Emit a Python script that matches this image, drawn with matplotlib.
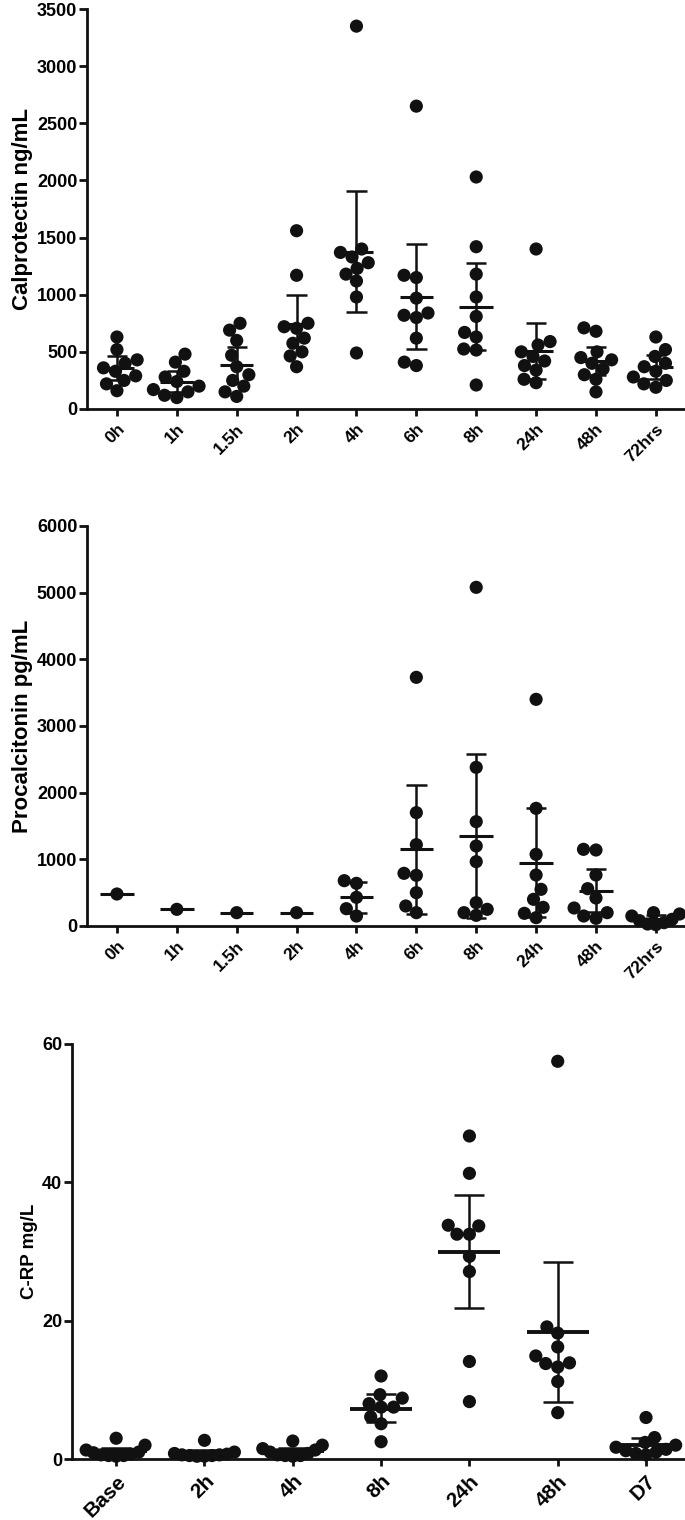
import numpy as np
import matplotlib
matplotlib.use("Agg")
import matplotlib.pyplot as plt

plt.rcParams['font.family'] = ['Liberation Sans', 'DejaVu Sans']
plt.rcParams['font.weight'] = 'bold'

INK = '#111111'

# --- Calprotectin (ng/mL) ---
calp_labels = ['0h', '1h', '1.5h', '2h', '4h', '6h', '8h', '24h', '48h', '72hrs']
calp_points = [
    [630, 520, 430, 400, 360, 330, 290, 250, 220, 160],
    [480, 410, 330, 280, 240, 200, 170, 150, 120, 100],
    [750, 690, 600, 470, 370, 300, 250, 200, 150, 110],
    [1560, 1170, 750, 720, 706, 620, 575, 500, 464, 370],
    [3350, 1400, 1370, 1330, 1280, 1230, 1180, 1120, 980, 490],
    [2650, 1170, 1150, 970, 840, 820, 800, 620, 410, 380],
    [2030, 1420, 1180, 980, 810, 670, 630, 525, 516, 210],
    [1400, 590, 560, 500, 460, 420, 380, 340, 260, 230],
    [710, 680, 500, 450, 430, 400, 350, 300, 260, 150],
    [630, 520, 460, 400, 370, 330, 280, 250, 220, 190],
]
calp_mean = [360, 240, 385, 740, 1375, 983, 895, 510, 423, 365]
calp_lo = [250, 150, 225, 480, 845, 522, 515, 265, 300, 260]
calp_hi = [465, 330, 545, 1000, 1905, 1444, 1275, 755, 545, 470]

# --- Procalcitonin (pg/mL) ---
pct_labels = ['0h', '1h', '1.5h', '2h', '4h', '6h', '8h', '24h', '48h', '72hrs']
pct_points = [
    [480],
    [250],
    [200],
    [200],
    [680, 640, 430, 260, 150],
    [3730, 1700, 1220, 790, 760, 500, 300, 200],
    [5080, 2380, 1565, 1200, 965, 350, 250, 200, 160],
    [3400, 1765, 1075, 765, 550, 400, 280, 190, 125],
    [1150, 1140, 765, 560, 420, 270, 200, 150, 115],
    [200, 180, 150, 100, 80, 50, 30, 20],
]
pct_mean = [480, 250, 200, 200, 430, 1150, 1350, 950, 530, 100]
pct_lo = [480, 250, 200, 200, 200, 185, 125, 135, 210, 30]
pct_hi = [480, 250, 200, 200, 660, 2115, 2575, 1765, 850, 170]

# --- C-RP (mg/L) ---
crp_labels = ['Base', '2h', '4h', '8h', '24h', '48h', 'D7']
crp_points = [
    [3.0, 2.0, 1.3, 1.0, 0.9, 0.7, 0.6, 0.5, 0.5, 0.4],
    [2.7, 1.0, 0.8, 0.7, 0.6, 0.6, 0.5, 0.5, 0.4, 0.4],
    [2.6, 2.0, 1.5, 1.3, 1.0, 0.8, 0.6, 0.5, 0.5, 0.4],
    [12.0, 9.3, 8.8, 8.0, 7.5, 7.5, 6.1, 5.1, 2.5],
    [46.7, 41.3, 33.8, 33.7, 32.5, 32.5, 29.3, 27.1, 14.1, 8.3],
    [57.5, 19.1, 18.2, 16.2, 14.9, 13.9, 13.8, 13.3, 11.2, 6.7],
    [6.0, 3.1, 2.4, 2.0, 1.7, 1.4, 1.2, 1.0, 0.8, 0.6],
]
crp_mean = [1.1, 0.8, 1.1, 7.3, 30.0, 18.4, 2.0]
crp_lo = [0.6, 0.4, 0.6, 5.3, 21.8, 8.3, 0.9]
crp_hi = [1.6, 1.3, 1.6, 9.4, 38.2, 28.5, 3.1]


def swarm_offsets(vals_px, d, max_spread):
    """Simple beeswarm in pixels; squeezed back if it gets wider than max_spread."""
    placed = []
    offs = np.zeros(len(vals_px))
    for i in np.argsort(vals_px):
        y = vals_px[i]
        spans = []
        for px, py in placed:
            dy = y - py
            if abs(dy) < d:
                h = np.sqrt(d * d - dy * dy)
                spans.append((px - h, px + h))
        cands = sorted([0.0] + [a for a, b in spans] + [b for a, b in spans], key=abs)
        for c in cands:
            if all(not (a + 1e-6 < c < b - 1e-6) for a, b in spans):
                break
        placed.append((c, y))
        offs[i] = c
    widest = np.abs(offs).max()
    if widest > max_spread:
        offs = offs * max_spread / widest
    return offs


def draw_panel(ax, labels, points, mean, lo, hi, ymax, yticks, ylabel,
               mean_hw, cap_hw, xright, ylab_size, xlab_size, mean_lw, spread):
    n = len(labels)
    ax.set_xlim(-0.5, xright)
    ax.set_ylim(0, ymax)
    fig = ax.figure
    fig.canvas.draw()
    t = ax.transData
    sx = t.transform((1, 0))[0] - t.transform((0, 0))[0]
    sy = t.transform((0, 1))[1] - t.transform((0, 0))[1]

    for i in range(n):
        vals = np.array(points[i], dtype=float)
        offs = swarm_offsets(vals * sy, 12.5, spread) / sx
        ax.scatter(i + offs, vals, s=90, color=INK, edgecolors='none',
                   zorder=3, clip_on=False)
        ax.hlines(mean[i], i - mean_hw, i + mean_hw, color=INK, lw=mean_lw, zorder=4)
        if hi[i] > lo[i]:
            ax.vlines(i, lo[i], hi[i], color=INK, lw=1.8, zorder=4)
            ax.hlines([lo[i], hi[i]], i - cap_hw, i + cap_hw, color=INK, lw=1.8, zorder=4)

    for s in ['top', 'right']:
        ax.spines[s].set_visible(False)
    for s in ['left', 'bottom']:
        ax.spines[s].set_linewidth(2.0)
        ax.spines[s].set_color(INK)
    ax.set_yticks(yticks)
    ax.set_xticks(range(n))
    ax.set_xticklabels(labels, rotation=45, ha='right', va='top',
                       rotation_mode='anchor', fontsize=xlab_size, fontweight='bold')
    ax.tick_params(axis='y', length=6, width=2, pad=1, labelsize=13, color=INK)
    ax.tick_params(axis='x', length=5, width=2, pad=4, color=INK)
    for lab in ax.get_yticklabels():
        lab.set_fontweight('bold')
    ax.set_ylabel(ylabel, fontsize=ylab_size, fontweight='bold', labelpad=3)


fig = plt.figure(figsize=(6.85, 15.2), dpi=100)
W, H = 685.0, 1520.0

ax1 = fig.add_axes([87 / W, 1 - 409 / H, (684 - 87) / W, 400 / H])
draw_panel(ax1, calp_labels, calp_points, calp_mean, calp_lo, calp_hi,
           3500, range(0, 3501, 500), 'Calprotectin ng/mL',
           0.28, 0.17, 9.47, 16, 12.5, 2.2, 24)

ax2 = fig.add_axes([87 / W, 1 - 926 / H, (684 - 87) / W, 400 / H])
draw_panel(ax2, pct_labels, pct_points, pct_mean, pct_lo, pct_hi,
           6000, range(0, 6001, 1000), 'Procalcitonin pg/mL',
           0.28, 0.17, 9.47, 16, 12.5, 2.2, 24)

ax3 = fig.add_axes([72 / W, 1 - 1459 / H, (684 - 72) / W, 415 / H])
draw_panel(ax3, crp_labels, crp_points, crp_mean, crp_lo, crp_hi,
           60, [0, 20, 40, 60], 'C-RP mg/L',
           0.35, 0.17, 6.43, 13.5, 15, 2.8, 30)

fig.savefig('out.png', dpi=100, facecolor='white')
